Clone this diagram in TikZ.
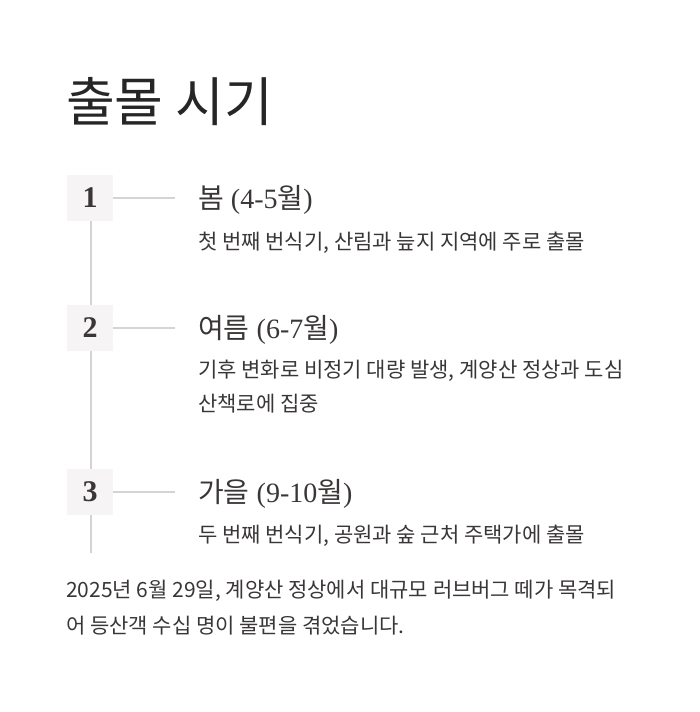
\documentclass[tikz,border=0pt]{standalone}
\usepackage{fontspec}
\setmainfont{Liberation Serif}
\newfontfamily\kr{Noto Sans CJK KR}
\begin{document}
\begin{tikzpicture}[x=1pt,y=-1pt]
\definecolor{ln}{HTML}{D6D3D3}
\definecolor{bx}{HTML}{F6F4F4}
\definecolor{tx}{HTML}{3A3636}
\tikzset{numbox/.style={fill=bx,minimum size=46pt,inner sep=0,font=\bfseries\fontsize{30}{30}\selectfont,text=tx},
 head/.style={anchor=west,font=\fontsize{28}{28}\selectfont,text=tx,inner sep=0},
 desc/.style={anchor=west,font=\kr\fontsize{21}{34}\selectfont,text=tx,inner sep=0,align=left},
 conn/.style={draw=ln,line width=2pt}}
\path[use as bounding box] (0,0) rectangle (700,712);
\node[anchor=west,inner sep=0,font=\kr\fontsize{53}{53}\selectfont,text=black!85] (t) at (66,102) {출몰 시기};
\coordinate (top) at (91,220);
\coordinate (bot) at (91,553);
\draw[conn] (top) -- (bot);
\node[numbox] (n1) at (90,198) {1};
\node[numbox] (n2) at (90,328) {2};
\node[numbox] (n3) at (90,492) {3};
\node[head] (h1) at (198,200) {{\kr 봄} (4-5{\kr 월})};
\node[head] (h2) at (198,330) {{\kr 여름} (6-7{\kr 월})};
\node[head] (h3) at (198,494) {{\kr 가을} (9-10{\kr 월})};
\coordinate (e1) at (175,198); \coordinate (e2) at (175,328); \coordinate (e3) at (175,492);
\draw[conn] (n1.east) -- (e1);
\draw[conn] (n2.east) -- (e2);
\draw[conn] (n3.east) -- (e3);
\node[desc] (d1) at (198,243) {첫 번째 번식기, 산림과 늪지 지역에 주로 출몰};
\node[desc,anchor=north west] (d2) at (198,360) {기후 변화로 비정기 대량 발생, 계양산 정상과 도심\\산책로에 집중};
\node[desc] (d3) at (198,536) {두 번째 번식기, 공원과 숲 근처 주택가에 출몰};
\node[desc,anchor=north west,font=\kr\fontsize{21}{36}\selectfont] (f) at (66,580) {2025년 6월 29일, 계양산 정상에서 대규모 러브버그 떼가 목격되\\어 등산객 수십 명이 불편을 겪었습니다.};
\end{tikzpicture}
\end{document}
